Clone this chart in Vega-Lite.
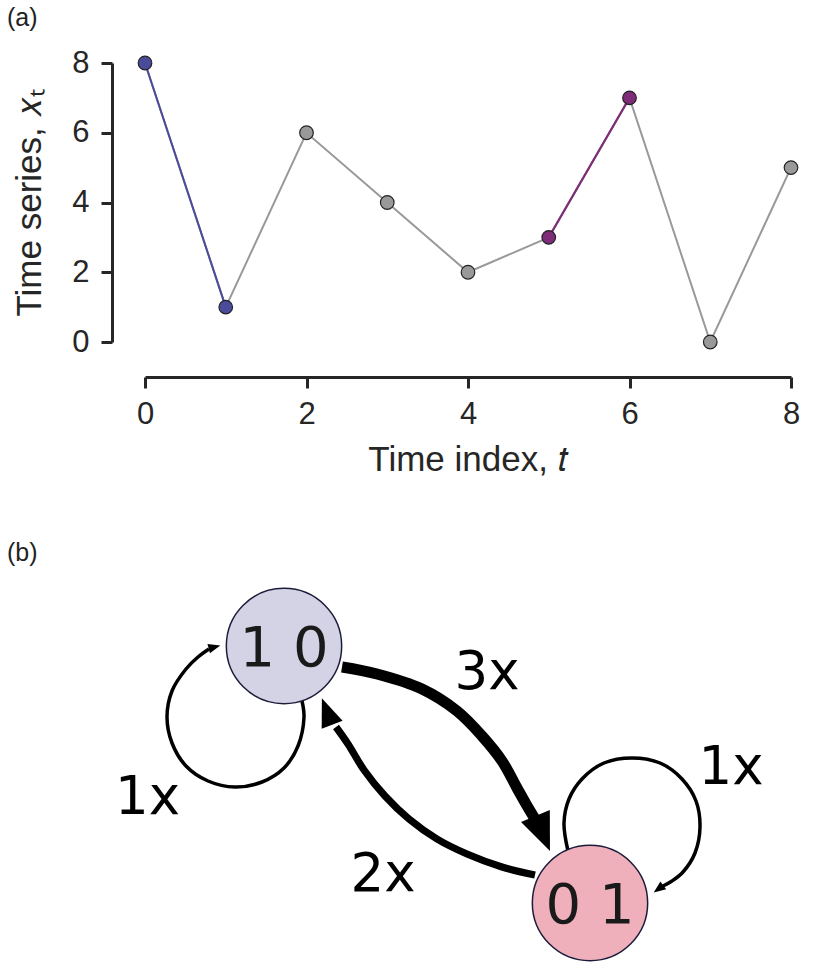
{
  "$schema": "https://vega.github.io/schema/vega-lite/v6.json",
  "padding": {"left": 7, "top": 6, "right": 5, "bottom": 2},
  "background": "white",
  "spacing": 225,
  "bounds": "flush",
  "resolve": {"scale": {"color": "independent"}},
  "config": {"view": {"stroke": null}, "font": "Liberation Sans"},
  "datasets": {
    "series": [
      {"t": 0, "x": 8, "pattern": "10"},
      {"t": 1, "x": 1, "pattern": "10"},
      {"t": 2, "x": 6, "pattern": "none"},
      {"t": 3, "x": 4, "pattern": "none"},
      {"t": 4, "x": 2, "pattern": "none"},
      {"t": 5, "x": 3, "pattern": "01"},
      {"t": 6, "x": 7, "pattern": "01"},
      {"t": 7, "x": 0, "pattern": "none"},
      {"t": 8, "x": 5, "pattern": "none"}
    ],
    "nodes": [
      {"state": "1 0", "x": 1.39, "y": 3.30},
      {"state": "0 1", "x": 4.45, "y": 0.73}
    ],
    "edges": [
      {"edge": "3x", "count": 3, "i": 0, "x": 1.97, "y": 3.09},
      {"edge": "3x", "count": 3, "i": 1, "x": 2.32, "y": 3.02},
      {"edge": "3x", "count": 3, "i": 2, "x": 2.77, "y": 2.87},
      {"edge": "3x", "count": 3, "i": 3, "x": 3.12, "y": 2.65},
      {"edge": "3x", "count": 3, "i": 4, "x": 3.37, "y": 2.40},
      {"edge": "3x", "count": 3, "i": 5, "x": 3.57, "y": 2.15},
      {"edge": "3x", "count": 3, "i": 6, "x": 3.72, "y": 1.88},
      {"edge": "3x", "count": 3, "i": 7, "x": 3.81, "y": 1.72},
      {"edge": "3x", "count": 3, "i": 8, "x": 3.90, "y": 1.57},
      {"edge": "2x", "count": 2, "i": 0, "x": 3.90, "y": 1.01},
      {"edge": "2x", "count": 2, "i": 1, "x": 3.57, "y": 1.09},
      {"edge": "2x", "count": 2, "i": 2, "x": 3.22, "y": 1.22},
      {"edge": "2x", "count": 2, "i": 3, "x": 2.92, "y": 1.37},
      {"edge": "2x", "count": 2, "i": 4, "x": 2.64, "y": 1.57},
      {"edge": "2x", "count": 2, "i": 5, "x": 2.40, "y": 1.80},
      {"edge": "2x", "count": 2, "i": 6, "x": 2.19, "y": 2.06},
      {"edge": "2x", "count": 2, "i": 7, "x": 2.03, "y": 2.32},
      {"edge": "2x", "count": 2, "i": 8, "x": 1.91, "y": 2.49},
      {"edge": "loop10", "count": 1, "i": 0, "x": 1.57, "y": 2.75},
      {"edge": "loop10", "count": 1, "i": 1, "x": 1.59, "y": 2.59},
      {"edge": "loop10", "count": 1, "i": 2, "x": 1.53, "y": 2.30},
      {"edge": "loop10", "count": 1, "i": 3, "x": 1.39, "y": 2.08},
      {"edge": "loop10", "count": 1, "i": 4, "x": 1.17, "y": 1.94},
      {"edge": "loop10", "count": 1, "i": 5, "x": 0.90, "y": 1.89},
      {"edge": "loop10", "count": 1, "i": 6, "x": 0.63, "y": 1.95},
      {"edge": "loop10", "count": 1, "i": 7, "x": 0.41, "y": 2.10},
      {"edge": "loop10", "count": 1, "i": 8, "x": 0.27, "y": 2.33},
      {"edge": "loop10", "count": 1, "i": 9, "x": 0.22, "y": 2.59},
      {"edge": "loop10", "count": 1, "i": 10, "x": 0.27, "y": 2.85},
      {"edge": "loop10", "count": 1, "i": 11, "x": 0.41, "y": 3.07},
      {"edge": "loop10", "count": 1, "i": 12, "x": 0.53, "y": 3.19},
      {"edge": "loop10", "count": 1, "i": 13, "x": 0.64, "y": 3.27},
      {"edge": "loop01", "count": 1, "i": 0, "x": 4.23, "y": 1.25},
      {"edge": "loop01", "count": 1, "i": 1, "x": 4.19, "y": 1.53},
      {"edge": "loop01", "count": 1, "i": 2, "x": 4.24, "y": 1.77},
      {"edge": "loop01", "count": 1, "i": 3, "x": 4.37, "y": 1.97},
      {"edge": "loop01", "count": 1, "i": 4, "x": 4.59, "y": 2.13},
      {"edge": "loop01", "count": 1, "i": 5, "x": 4.87, "y": 2.18},
      {"edge": "loop01", "count": 1, "i": 6, "x": 5.15, "y": 2.13},
      {"edge": "loop01", "count": 1, "i": 7, "x": 5.37, "y": 1.97},
      {"edge": "loop01", "count": 1, "i": 8, "x": 5.51, "y": 1.75},
      {"edge": "loop01", "count": 1, "i": 9, "x": 5.55, "y": 1.49},
      {"edge": "loop01", "count": 1, "i": 10, "x": 5.50, "y": 1.23},
      {"edge": "loop01", "count": 1, "i": 11, "x": 5.38, "y": 1.04},
      {"edge": "loop01", "count": 1, "i": 12, "x": 5.27, "y": 0.95},
      {"edge": "loop01", "count": 1, "i": 13, "x": 5.18, "y": 0.90}
    ],
    "heads": [
      {"edge": "3x", "x": 3.977, "y": 1.425},
      {"edge": "2x", "x": 1.82, "y": 2.645},
      {"edge": "loop10", "x": 0.695, "y": 3.29},
      {"edge": "loop01", "x": 5.135, "y": 0.87}
    ],
    "labels": [
      {"label": "3x", "x": 3.42, "y": 2.87},
      {"label": "2x", "x": 2.38, "y": 0.85},
      {"label": "1x", "x": 0.025, "y": 1.62},
      {"label": "1x", "x": 5.86, "y": 1.92}
    ]
  },
  "vconcat": [
    {
      "width": 646,
      "height": 279,
      "title": {"text": "(a)", "anchor": "start", "frame": "group", "dx": -138, "fontSize": 25, "fontWeight": "normal", "color": "#222222", "offset": 16},
      "data": {"name": "series"},
      "encoding": {
        "x": {
          "field": "t", "type": "quantitative",
          "scale": {"domain": [0, 8], "nice": false, "zero": false},
          "axis": {
            "title": "Time index, 𝑡", "values": [0, 2, 4, 6, 8], "offset": 35,
            "grid": false, "tickSize": 11, "tickWidth": 3, "domainWidth": 3,
            "labelPadding": 11, "titlePadding": 13, "labelFontSize": 31, "titleFontSize": 35,
            "titleFontWeight": "normal", "labelFlush": false, "labelOverlap": false,
            "domainColor": "#262626", "tickColor": "#262626", "labelColor": "#262626", "titleColor": "#262626"
          }
        },
        "y": {
          "field": "x", "type": "quantitative",
          "scale": {"domain": [0, 8], "nice": false, "zero": false},
          "axis": {
            "title": "Time series, 𝑥ₜ", "values": [0, 2, 4, 6, 8], "offset": 33,
            "grid": false, "tickSize": 11, "tickWidth": 3, "domainWidth": 3,
            "labelPadding": 12, "titlePadding": 24, "labelFontSize": 31, "titleFontSize": 35,
            "titleFontWeight": "normal", "labelFlush": false, "labelOverlap": false,
            "domainColor": "#262626", "tickColor": "#262626", "labelColor": "#262626", "titleColor": "#262626"
          }
        }
      },
      "layer": [
        {"mark": {"type": "line", "color": "#999999", "strokeWidth": 2}},
        {
          "transform": [{"filter": "datum.pattern !== 'none'"}],
          "mark": {"type": "line", "strokeWidth": 2},
          "encoding": {"color": {"field": "pattern", "type": "nominal", "scale": {"domain": ["10", "01", "none"], "range": ["#4b4b9c", "#7e2b78", "#999999"]}, "legend": null}}
        },
        {
          "mark": {"type": "circle", "size": 185, "opacity": 1, "stroke": "#222222", "strokeWidth": 1.2},
          "encoding": {"color": {"field": "pattern", "type": "nominal", "scale": {"domain": ["10", "01", "none"], "range": ["#4b4b9c", "#7e2b78", "#999999"]}, "legend": null}}
        }
      ]
    },
    {
      "width": 646,
      "height": 409,
      "title": {"text": "(b)", "anchor": "start", "frame": "group", "dx": -138, "fontSize": 25, "fontWeight": "normal", "color": "#222222", "offset": 1},
      "encoding": {
        "x": {"field": "x", "type": "quantitative", "scale": {"domain": [0, 6.46], "nice": false, "zero": false}, "axis": null},
        "y": {"field": "y", "type": "quantitative", "scale": {"domain": [0, 4.09], "nice": false, "zero": false}, "axis": null}
      },
      "layer": [
        {
          "data": {"name": "edges"},
          "mark": {"type": "line", "interpolate": "catmull-rom", "color": "#000000", "strokeCap": "butt"},
          "encoding": {
            "detail": {"field": "edge", "type": "nominal"},
            "order": {"field": "i", "type": "quantitative"},
            "strokeWidth": {"field": "count", "type": "quantitative", "scale": {"domain": [1, 3], "range": [3.5, 11]}, "legend": null}
          }
        },
        {
          "data": {"name": "heads"},
          "transform": [{"filter": "datum.edge === '3x'"}],
          "mark": {"type": "point", "shape": "M0,-1L0.82,1L-0.82,1Z", "filled": true, "color": "#000000", "opacity": 1, "size": 1444, "angle": 157.5}
        },
        {
          "data": {"name": "heads"},
          "transform": [{"filter": "datum.edge === '2x'"}],
          "mark": {"type": "point", "shape": "M0,-1L0.78,1L-0.78,1Z", "filled": true, "color": "#000000", "opacity": 1, "size": 820, "angle": 339}
        },
        {
          "data": {"name": "heads"},
          "transform": [{"filter": "datum.edge === 'loop10'"}],
          "mark": {"type": "point", "shape": "M0,-1L0.8,1L-0.8,1Z", "filled": true, "color": "#000000", "opacity": 1, "size": 144, "angle": 75}
        },
        {
          "data": {"name": "heads"},
          "transform": [{"filter": "datum.edge === 'loop01'"}],
          "mark": {"type": "point", "shape": "M0,-1L0.8,1L-0.8,1Z", "filled": true, "color": "#000000", "opacity": 1, "size": 144, "angle": 233}
        },
        {
          "data": {"name": "nodes"},
          "mark": {"type": "circle", "size": 13300, "opacity": 1, "stroke": "#1c1c3a", "strokeWidth": 1.5},
          "encoding": {"color": {"field": "state", "type": "nominal", "scale": {"domain": ["1 0", "0 1"], "range": ["#d4d3e6", "#efb0bc"]}, "legend": null}}
        },
        {
          "data": {"name": "nodes"},
          "mark": {"type": "text", "font": "DejaVu Sans", "fontSize": 56, "color": "#1a1a1a", "align": "center", "baseline": "middle", "dy": 3},
          "encoding": {"text": {"field": "state", "type": "nominal"}}
        },
        {
          "data": {"name": "labels"},
          "mark": {"type": "text", "font": "DejaVu Sans", "fontSize": 53, "color": "#000000", "align": "center", "baseline": "alphabetic"},
          "encoding": {"text": {"field": "label", "type": "nominal"}}
        }
      ]
    }
  ]
}
